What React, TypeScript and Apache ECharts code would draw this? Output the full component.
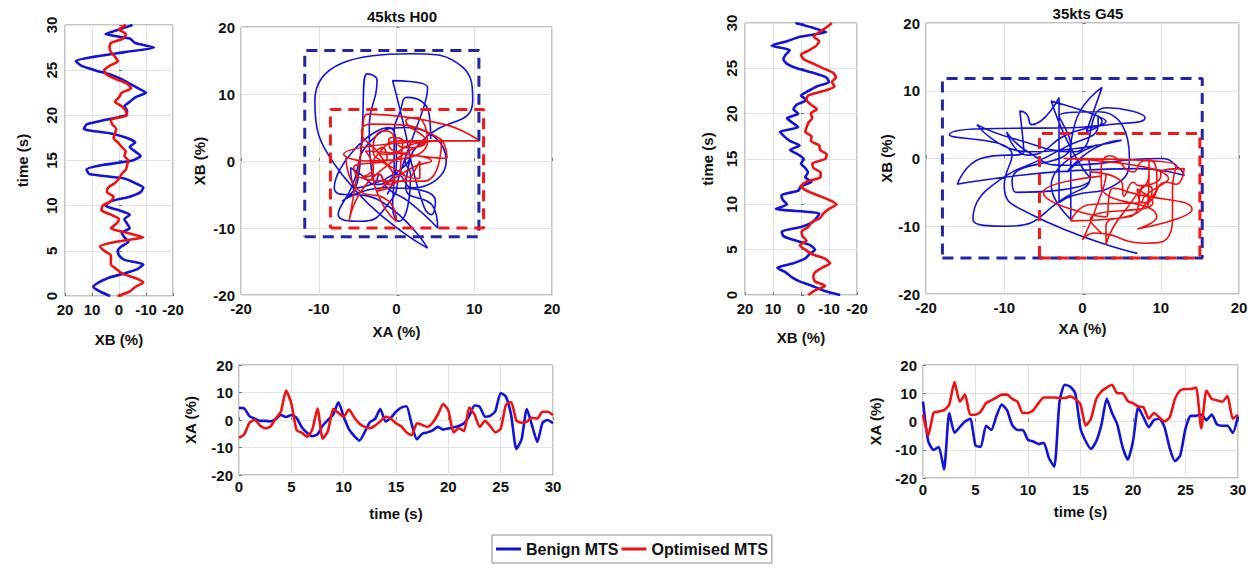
import React, { useEffect, useRef } from "react";
import * as echarts from "echarts";

// ---------- data ----------
const time = [0, 0.5, 1, 1.5, 2, 2.5, 3, 3.5, 4, 4.5, 5, 5.5, 6, 6.5, 7, 7.5, 8, 8.5, 9, 9.5, 10, 10.5, 11, 11.5, 12, 12.5, 13, 13.5, 14, 14.5, 15, 15.5, 16, 16.5, 17, 17.5, 18, 18.5, 19, 19.5, 20, 20.5, 21, 21.5, 22, 22.5, 23, 23.5, 24, 24.5, 25, 25.5, 26, 26.5, 27, 27.5, 28, 28.5, 29, 29.5, 30];

// 45kts H00
const benignXA_H00 = [4.4, 4.2, 1.4, 0.5, -0.3, -0.3, -0.5, 0.3, 1.8, 1.1, 1.8, 0.8, -2.6, -4.6, -5.9, -5.2, -2, 0, 2, 6.4, 1.2, -3.3, -5.8, -7.5, -4.5, -0.8, 0.4, 4, -0.5, 0.8, 3, 4.5, 5, -1.5, -7, -5, -4.5, -3.8, -2.5, -3.5, -3.1, -2.7, -2.2, -1.2, 1.5, 5.3, 4.8, 1.2, 1.5, 3.3, 9.8, 8.5, 1.8, -10.5, -7, 4, -2, -8, -1, 0, -1.2];
const optimisedXA_H00 = [-6.5, -5.2, -1, 0, -2, -3, -2.4, 0.5, 3, 10.7, 6, -3.7, -4.6, -6.1, -3.5, 4.2, -6.8, -4, 4, 2.6, 1.2, 3.8, 1, -1.3, -2.5, -3, -2, -0.5, 1.2, 0.5, -1.2, -2.3, -4.5, -5.5, -1.2, -1.8, -2.5, -1, 2, 5.8, 3.5, -4.5, -3, -4, 4.5, 2, -2.5, -0.3, -2.2, -4.5, -3.2, 5.5, 6.5, -0.2, -1, -0.6, 0.8, 0.5, 3, 3, 1.8];
const benignXB_H00 = [3.3, 7, 9.5, 7.5, 4, -2, -7, -9, -2, 0, 0.5, -1, -3.5, -2, -1, -4, -3, -2, -4, 0, 5, 3, -4, -8, -9, -6, -2, 11, 12, 6, -5, -8, -6, -4, -6, -3, 3, 13, 12, 5, -2.5, -3, -2, -4, -6, -10, -7, -4, -1, 3, 9, 14, 16, 9, -2, -13, -6, -4, 5, 0, -5];
const optimisedXB_H00 = [0.5, -4, -6, -9, -6, -1, 1, 3, 3, 3, 5.5, 7, 1, -9, -3, 3, 1, 0, 3, 6.5, 6, 3, 2, 4.5, 4, 1.5, 0, -1, -2.6, -3, -3.5, -2, -2.5, -1, 0.4, 2, 1.5, 1, 2.5, 3, -3, -2.5, -1, 1.5, 0, -1, -4.5, -3, 1, 4.5, 5.5, 3.4, 0.4, 1.5, 3, 3.5, 3, -1.5, -2.6, 0, -2.6];
// envelope boxes [XA min, XA max, XB min, XB max]
const benignBox_H00 = [-11.8, 10.6, -11.3, 16.5];
const optimisedBox_H00 = [-8.5, 11.2, -10, 7.7];

// 35kts G45
const benignXA_G45 = [7, -7, -10, -9, -17, 3, -4, -2, 0, 1, -8.5, -9, -1.5, -3, 2, 6, 4, -1.3, -3, -3, -6.5, -7.1, -8, -7.5, -13, -16, 7, 13, 12.4, 10, -2.5, -7, -9.7, -7, -1, 8, 3, -1, -9, -13.5, -7, 5, 1.5, -2, 0.5, 1, -2, -9.5, -14, -12, -2.5, 2, 2, 2.5, 0.5, 2.5, -1, -1.5, -1.5, -4, 1.8];
const optimisedXA_G45 = [2.4, -5, 3, 3.5, 4, 6, 14, 7, 9.5, 2.4, 2.4, 3.5, 6.5, 7.5, 8.5, 9.5, 9.5, 8, 7, 3, 3, 4, 6.5, 8.5, 8.5, 8.5, 8.3, 8.3, 8.9, 8, 6, -1.5, 1, 8, 10.7, 12, 13, 10, 10, 7.2, 6.5, 5.3, 5, 1, 3, 1.5, 0, 1.5, 8, 11, 11.5, 11.5, 12, -2.4, 11, 8, 7.5, 7, 9, 1, 2.4];
const benignXB_G45 = [-14, -8, -4, 0.5, 3.5, 5.5, 8.5, 2.7, -1.4, -3, -5, -3.2, 2, 6.3, 6.9, 0, -4, -5.5, -6.5, 9, 5, 6.5, 7, 1, 0, -3.8, -1.5, -2.5, -1.5, 0, -1, 1, 3.9, 0.5, 4, 6, 7.5, 1, 3, 5, 1, 2.7, 1.5, -2, 0, -2.6, -5.6, -10, -9, -4.4, 1.5, 5, 6.3, 5.5, 4, 10.5, 5, 0, -9, -4, 2];
const optimisedXB_G45 = [-2.6, -5, -8.6, -5, -4.4, -5, -7.5, -10.4, -8.6, -4, -1.5, 0.4, -2, -0.5, -0.2, -2.6, -3.8, -6.8, -8, -10, -12.7, -10, -6, -2, 0, -2, -7, -7, -4.5, -4, -8.6, -9.2, -6.8, -6.5, -3.5, -3.8, -1.5, -2, -2.6, -4, -3.5, -5.6, -3.5, -2, -2.5, -8, -12, -11, -12.5, -11.5, -8, -4.5, -1, 0, -3, -5.5, -6.5, -4.5, -6.5, -9, -11];
const benignBox_G45 = [-17.9, 15.3, -14.7, 11.8];
const optimisedBox_G45 = [-5.5, 15, -14.7, 3.7];

const titles = ["45kts H00", "35kts G45"];
const seriesNames = ["Benign MTS", "Optimised MTS"];

// ---------- styles ----------
const FONT = "'Liberation Sans', Arial, Helvetica, sans-serif";
const BLUE = "#1212d8";
const RED = "#ee1212";
const BLUE_BOX = "#2424a6";
const RED_BOX = "#f01818";

const grids = [
  { left: 65, top: 25, width: 108, height: 271 },
  { left: 241, top: 27, width: 311, height: 268 },
  { left: 239, top: 365, width: 314, height: 110 },
  { left: 745, top: 23, width: 112, height: 272 },
  { left: 926, top: 23, width: 313, height: 271 },
  { left: 923, top: 365, width: 315, height: 113 },
];

function axis(gridIndex: number, o: any) {
  return {
    type: "value",
    gridIndex,
    nameLocation: "middle",
    nameTextStyle: { fontFamily: FONT, fontWeight: "bold", fontSize: 15, color: "#111" },
    axisLine: { show: false },
    axisTick: { show: true, inside: true, length: 3, lineStyle: { color: "#777" } },
    splitLine: { show: true, lineStyle: { color: "#e2e2e2", width: 1 } },
    ...o,
    axisLabel: { fontFamily: FONT, fontWeight: "bold", fontSize: 15, color: "#111", margin: 6, ...(o.axisLabel || {}) },
  };
}

function boxPath(b: number[]) {
  return [[b[0], b[2]], [b[1], b[2]], [b[1], b[3]], [b[0], b[3]], [b[0], b[2]]];
}

function buildSeries(
  base: number,
  bXA: number[], oXA: number[], bXB: number[], oXB: number[],
  bBox: number[], oBox: number[]
) {
  const ts = (arr: number[]) => time.map((t, i) => [t, arr[i]]);
  const vt = (arr: number[]) => arr.map((v, i) => [v, time[i]]);
  const xy = (a: number[], b: number[]) => a.map((v, i) => [v, b[i]]);
  const line = (name: string, color: string, idx: number, data: any[], width: number, smooth: number) => ({
    type: "line",
    name,
    xAxisIndex: idx,
    yAxisIndex: idx,
    data,
    color,
    showSymbol: false,
    symbol: "none",
    smooth,
    lineStyle: { color, width },
    silent: true,
  });
  const dashed = (name: string, color: string, idx: number, b: number[]) => ({
    type: "line",
    name,
    xAxisIndex: idx,
    yAxisIndex: idx,
    data: boxPath(b),
    showSymbol: false,
    symbol: "none",
    lineStyle: { color, width: 3, type: [11, 7] },
    silent: true,
    z: 5,
  });
  return [
    line(seriesNames[0], BLUE, base, vt(bXB), 2.6, 0.2),
    line(seriesNames[1], RED, base, vt(oXB), 2.6, 0.2),
    line(seriesNames[0], BLUE, base + 1, xy(bXA, bXB), 1.6, 0.55),
    line(seriesNames[1], RED, base + 1, xy(oXA, oXB), 1.6, 0.55),
    dashed("benign envelope", BLUE_BOX, base + 1, bBox),
    dashed("optimised envelope", RED_BOX, base + 1, oBox),
    line(seriesNames[0], BLUE, base + 2, ts(bXA), 2.6, 0.2),
    line(seriesNames[1], RED, base + 2, ts(oXA), 2.6, 0.2),
  ];
}

const nameGaps = [
  { vx: 36, vy: 35, xyx: 29, xyy: 34, tx: 31, ty: 41 },
  { vx: 35, vy: 30, xyx: 27, xyy: 31, tx: 26, ty: 40 },
];

const xAxes: any[] = [];
const yAxes: any[] = [];
[0, 1].forEach((k) => {
  const g = nameGaps[k];
  const b = k * 3;
  // XB vs time
  xAxes.push(axis(b, { min: -20, max: 20, interval: 10, inverse: true, name: "XB (%)", nameGap: g.vx }));
  yAxes.push(axis(b, { min: 0, max: 30, interval: 5, name: "time (s)", nameGap: g.vy, axisLabel: { rotate: 90, margin: 6 } }));
  // XA vs XB
  xAxes.push(axis(b + 1, { min: -20, max: 20, interval: 10, name: "XA (%)", nameGap: g.xyx }));
  yAxes.push(axis(b + 1, { min: -20, max: 20, interval: 10, name: "XB (%)", nameGap: g.xyy }));
  // XA vs time
  xAxes.push(axis(b + 2, { min: 0, max: 30, interval: 5, name: "time (s)", nameGap: g.tx, axisLabel: { margin: 4 } }));
  yAxes.push(axis(b + 2, { min: -20, max: 20, interval: 10, name: "XA (%)", nameGap: g.ty }));
});

const option: any = {
  animation: false,
  backgroundColor: "#ffffff",
  title: [
    { text: titles[0], left: 397, top: 4, textAlign: "center", textStyle: { fontFamily: FONT, fontWeight: "bold", fontSize: 15, color: "#111" } },
    { text: titles[1], left: 1083, top: 1, textAlign: "center", textStyle: { fontFamily: FONT, fontWeight: "bold", fontSize: 15, color: "#111" } },
  ],
  legend: {
    data: seriesNames,
    left: 492,
    top: 535,
    orient: "horizontal",
    icon: "rect",
    itemWidth: 25,
    itemHeight: 3,
    itemGap: 3,
    padding: [6, 4],
    backgroundColor: "#fff",
    borderColor: "#8c8c8c",
    borderWidth: 1,
    selectedMode: false,
    textStyle: { fontFamily: FONT, fontWeight: "bold", fontSize: 16, color: "#111" },
  },
  grid: grids.map((g) => ({ ...g, show: true, borderColor: "#8a8a8a", borderWidth: 1, backgroundColor: "#fff", containLabel: false })),
  xAxis: xAxes,
  yAxis: yAxes,
  series: [
    ...buildSeries(0, benignXA_H00, optimisedXA_H00, benignXB_H00, optimisedXB_H00, benignBox_H00, optimisedBox_H00),
    ...buildSeries(3, benignXA_G45, optimisedXA_G45, benignXB_G45, optimisedXB_G45, benignBox_G45, optimisedBox_G45),
  ],
};

export default function App() {
  const ref = useRef<HTMLDivElement>(null);
  useEffect(() => {
    if (!ref.current) return;
    const chart = echarts.init(ref.current, null, { renderer: "svg" });
    chart.setOption(option);
    return () => chart.dispose();
  }, []);
  return (
    <div
      ref={ref}
      style={{ position: "absolute", left: 0, top: 0, width: 1255, height: 569, background: "#fff" }}
    />
  );
}
